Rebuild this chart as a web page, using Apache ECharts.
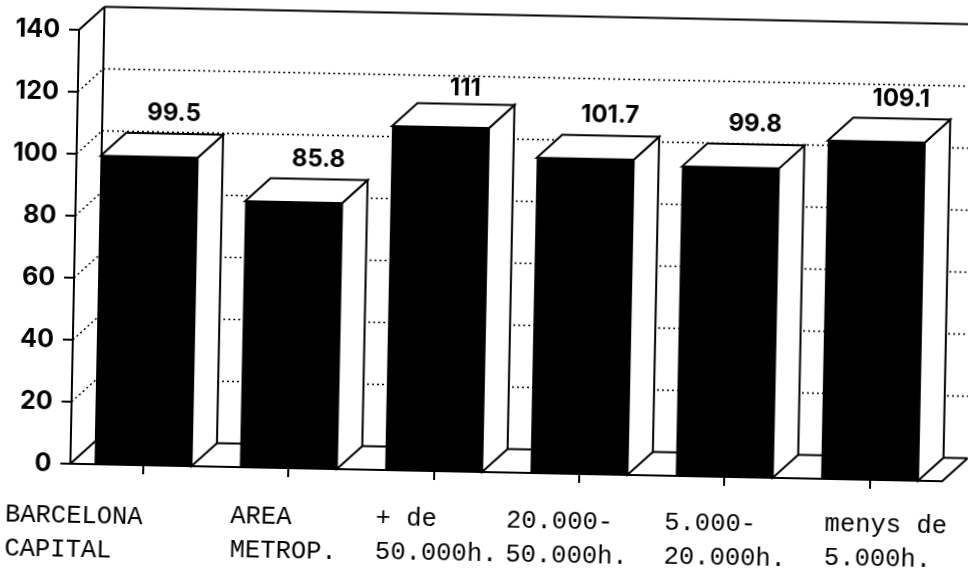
<!DOCTYPE html>
<html>
<head>
<meta charset="utf-8">
<script src="https://cdn.jsdelivr.net/npm/echarts@6/dist/echarts.min.js"></script>
<style>
html,body{margin:0;padding:0;background:#fff;overflow:hidden;width:968px;height:573px;}
/* the scan sits a little crooked */
#main{position:absolute;left:0;top:0;width:976px;height:573px;transform-origin:484px 286px;transform:rotate(1.15deg);}
</style>
</head>
<body>
<div id="main"></div>
<script>
var categories = ['BARCELONA\nCAPITAL','AREA\nMETROP.','+ de\n50.000h.','20.000-\n50.000h.','5.000-\n20.000h.','menys de\n5.000h.'];
var values = [99.5,85.8,111,101.7,99.8,109.1];
var valueLabels = ['99.5','85.8','111','101.7','99.8','109.1'];
var wallTicks = [20,40,60,80,100,120];

// layout bits
var DX = 25, DY = -23.5, BAR_W = 97;
var labelShiftX = [-137,-57,-57,-72,-59,-44];
var labelShiftY = [69,66,65,65,64,62];
var valueLift = [20,20,16,20,20,20];

var myChart = echarts.init(document.getElementById('main'));

function line(x1,y1,x2,y2,w,dash){
    return {type:'line',shape:{x1:x1,y1:y1,x2:x2,y2:y2},
        style:{stroke:'#000',lineWidth:w,lineDash:dash||null}};
}
function poly(pts){
    return {type:'polygon',shape:{points:pts},style:{fill:'#fff',stroke:'#000',lineWidth:2,lineJoin:'miter'}};
}

var option = {
    backgroundColor:'#fff',
    animation:false,
    grid:{left:74,right:30,top:38,bottom:101},
    xAxis:{
        type:'category',
        data:categories,
        axisLine:{lineStyle:{color:'#000',width:2}},
        axisTick:{show:true,alignWithLabel:true,length:9,lineStyle:{color:'#000',width:2}},
        axisLabel:{show:false}
    },
    yAxis:{
        type:'value',
        min:0,max:140,interval:20,
        axisLine:{show:true,lineStyle:{color:'#000',width:2}},
        axisTick:{show:true,length:10,lineStyle:{color:'#000',width:2}},
        axisLabel:{margin:19,color:'#000',fontFamily:'Inter',fontWeight:'bold',fontSize:25},
        splitLine:{show:false}
    },
    series:[
        // side wall + back wall frame
        {
            type:'custom',silent:true,clip:false,z:1,
            data:[[0,0]],
            renderItem:function(params,api){
                var c = params.coordSys;
                var l = c.x, r = c.x+c.width, t = c.y, b = c.y+c.height;
                return {type:'group',children:[
                    line(l,t,l+DX,t+DY,2),
                    line(l+DX,t+DY,r+DX,t+DY,2),
                    line(l+DX,t+DY,l+DX,b+DY,2),
                    line(l,b,l+DX,b+DY,2),
                    line(l+DX,b+DY,r+DX,b+DY,2),
                    line(r,b,r+DX,b+DY,2)
                ]};
            }
        },
        // dotted gridlines
        {
            type:'custom',silent:true,clip:false,z:1,
            data:wallTicks.map(function(v){return [0,v];}),
            renderItem:function(params,api){
                var c = params.coordSys;
                var y = api.coord([0,api.value(1)])[1];
                var l = c.x, r = c.x+c.width;
                return {type:'group',children:[
                    line(l,y,l+DX,y+DY,1.5,[2,3]),
                    line(l+DX,y+DY,r+DX,y+DY,1.5,[2,3])
                ]};
            }
        },
        // bars
        {
            type:'custom',clip:false,z:2,
            data:values.map(function(v,i){return [i,v];}),
            renderItem:function(params,api){
                var top = api.coord([api.value(0),api.value(1)]);
                var base = api.coord([api.value(0),0]);
                var x0 = top[0]-BAR_W/2, x1 = top[0]+BAR_W/2, yt = top[1], yb = base[1];
                return {type:'group',children:[
                    poly([[x1,yt],[x1+DX,yt+DY],[x1+DX,yb+DY],[x1,yb]]),
                    poly([[x0,yt],[x0+DX,yt+DY],[x1+DX,yt+DY],[x1,yt]]),
                    {type:'rect',shape:{x:x0,y:yt,width:BAR_W,height:yb-yt},style:{fill:'#000'}},
                    {type:'text',x:top[0]+DX-1,y:yt+DY-valueLift[params.dataIndex],style:{
                        text:valueLabels[params.dataIndex],
                        fontFamily:'Inter',fontWeight:'bold',fontSize:24,fill:'#000',
                        align:'center',verticalAlign:'middle'}}
                ]};
            }
        },
        // category labels (hand placed in the original)
        {
            type:'custom',silent:true,clip:false,z:3,
            data:categories.map(function(v,i){return [i,0];}),
            renderItem:function(params,api){
                var i = params.dataIndex;
                var p = api.coord([i,0]);
                return {type:'text',x:p[0]+labelShiftX[i],y:p[1]+labelShiftY[i],style:{
                    text:categories[i],
                    fontFamily:'Liberation Mono',fontSize:25.5,lineHeight:34,fill:'#000',
                    align:'left',verticalAlign:'middle'}};
            }
        }
    ]
};
myChart.setOption(option);
</script>
</body>
</html>
